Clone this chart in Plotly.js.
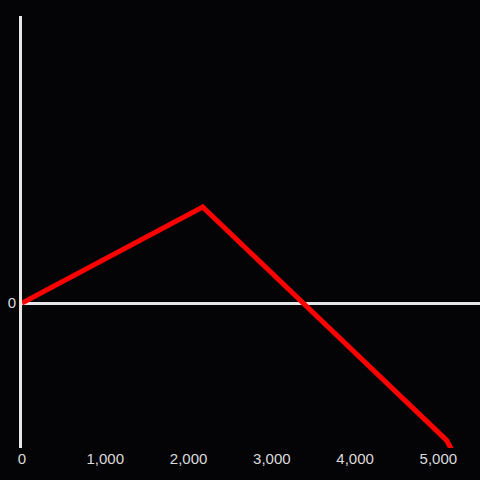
<!DOCTYPE html>
<html><head><meta charset="utf-8">
<script src="https://cdn.plot.ly/plotly-3.0.1.min.js"></script>
<style>html,body{margin:0;padding:0;background:#040306;}</style>
</head><body>
<div id="chart" style="width:480px;height:480px;"></div>
<script>
var xValues = [0, 2170, 5100, 5178];
var yValues = [0, 100, -143, -156];
var xTickVals = [0, 1000, 2000, 3000, 4000, 5000];
var xTickText = ["0", "1,000", "2,000", "3,000", "4,000", "5,000"];
var yTickVals = [0];
var yTickText = ["0"];

Plotly.newPlot('chart', [{
  x: xValues, y: yValues, type: 'scatter', mode: 'lines',
  line: {color: '#ff0000', width: 5},
  cliponaxis: false, hoverinfo: 'none'
}], {
  width: 480, height: 480,
  paper_bgcolor: '#040306', plot_bgcolor: '#040306',
  margin: {l: 22, r: 0, t: 16, b: 32, pad: 0},
  showlegend: false,
  font: {family: 'Liberation Sans, Arial, sans-serif', size: 15, color: '#dcdcdc'},
  xaxis: {range: [0, 5500], tickvals: xTickVals, ticktext: xTickText,
          showgrid: false, zeroline: false, showline: false, ticks: '',
          tickfont: {size: 15, color: '#dcdcdc'}},
  yaxis: {range: [-151, 299], tickvals: yTickVals, ticktext: yTickText,
          showgrid: false, zeroline: true, zerolinecolor: '#e6e6e6', zerolinewidth: 3,
          showline: true, linecolor: '#e6e6e6', linewidth: 3, ticks: '',
          tickfont: {size: 15, color: '#dcdcdc'}}
}, {staticPlot: true});
</script>
</body></html>
